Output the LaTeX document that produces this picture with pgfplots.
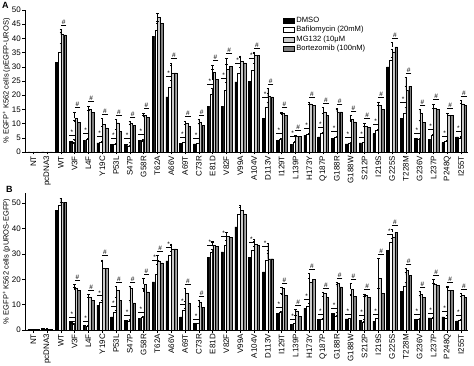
\documentclass[border=0pt]{standalone}
\usepackage{fontspec}
\setmainfont{Liberation Sans}
\usepackage{pgfplots}
\pgfplotsset{compat=1.18}
\usepackage{pgfplotstable}

\pgfplotstableread{
x d de b be m me t te
0 0 0 0 0 0 0 0 0
1 0 0 0 0 0 0 0 0
2 31.5 3.5 35.3 3.0 41.5 0.8 41.2 2.0
3 3.8 0.6 3.0 0.3 11.8 2.3 10.5 0.8
4 4.2 0.4 4.6 0.4 15.0 1.2 14.0 0.8
5 3.2 0.6 3.5 0.3 9.8 2.0 8.5 0.7
6 2.7 0.3 2.6 0.2 10.3 1.2 7.3 0.8
7 2.7 0.6 2.2 0.2 10.0 0.8 9.5 0.4
8 4.0 0.6 3.9 0.3 13.0 0.8 12.2 0.6
9 40.8 4.4 43.0 2.3 47.4 1.4 45.3 0.8
10 19.4 1.5 22.7 2.5 27.9 3.5 27.9 2.5
11 3.0 0.3 3.3 0.3 10.2 0.8 9.1 0.6
12 2.9 0.3 3.0 0.2 10.6 0.8 9.5 0.6
13 16.1 2.5 20.2 2.2 28.2 2.5 25.5 3.5
14 16.1 2.8 21.8 2.7 29.0 2.0 30.2 2.8
15 24.7 1.5 27.6 2.2 31.8 1.7 31.4 2.5
16 24.9 2.0 28.8 2.5 34.1 1.0 34.1 0.8
17 11.8 1.8 15.9 1.8 19.6 1.2 19.4 3.0
18 4.1 0.4 4.6 0.3 13.5 0.5 13.0 0.5
19 2.7 0.4 3.5 0.4 5.5 0.4 5.5 0.4
20 5.9 0.4 6.2 0.4 17.0 0.6 16.5 0.5
21 5.3 0.5 6.5 0.5 14.1 1.5 13.0 0.5
22 4.7 0.3 5.3 0.3 14.1 1.2 14.1 0.8
23 2.9 0.3 3.2 0.3 11.4 1.5 10.6 0.5
24 3.2 0.2 3.3 0.2 9.0 1.2 8.6 0.6
25 6.5 0.4 7.5 0.5 16.5 1.2 15.0 1.5
26 30.0 0.0 32.4 1.0 35.3 1.0 37.0 1.5
27 11.8 0.0 13.8 2.0 21.8 1.5 23.2 3.0
28 4.7 0.3 4.6 0.3 13.5 1.5 10.5 0.8
29 4.4 0.3 6.0 0.4 15.3 1.5 15.0 0.5
30 3.3 0.3 3.7 0.3 13.0 0.8 13.0 0.5
31 5.3 0.3 5.0 0.3 17.0 1.2 16.5 0.8
}\dataA

\pgfplotstableread{
x d de b be m me t te
0 0.2 0 0.2 0 0.2 0 0.2 0
1 0.6 0.1 0.3 0 0.2 0 0.2 0
2 47.1 0.8 49.0 1.5 50.4 1.5 50.4 1.5
3 3.3 0.3 2.2 0.3 16.4 1.5 15.7 1.2
4 1.7 0.2 1.5 0.2 13.1 1.0 11.8 1.0
5 9.8 0.8 11.1 0.8 24.2 3.0 24.2 3.5
6 5.2 0.3 7.2 0.5 15.7 1.5 11.8 1.0
7 3.8 0.3 3.5 0.3 16.4 1.0 10.7 1.0
8 4.6 0.3 5.0 0.3 18.0 2.5 15.0 1.5
9 19.0 2.0 22.0 4.0 27.3 2.0 26.5 1.0
10 27.2 2.0 29.5 1.5 32.0 1.5 32.0 2.0
11 5.2 0.5 7.8 0.8 14.4 2.0 10.5 1.0
12 2.5 0.2 2.6 0.2 11.1 0.6 8.8 0.6
13 28.5 1.5 30.8 1.2 33.4 1.5 33.0 1.5
14 30.8 2.5 33.4 2.0 36.9 1.5 36.6 2.0
15 40.6 3.0 45.8 2.5 47.1 2.0 45.8 2.5
16 28.5 2.0 31.4 1.5 33.8 2.0 33.4 1.5
17 22.9 3.5 27.5 4.0 28.1 2.0 28.1 6.0
18 6.5 0.5 7.0 0.5 16.4 0.6 13.7 0.8
19 2.2 0.3 2.5 0.3 7.6 0.5 5.5 0.5
20 8.5 0.6 9.5 1.0 19.0 1.5 19.9 2.5
21 4.2 0.3 4.2 0.3 14.4 0.6 12.8 0.6
22 6.5 0.5 5.5 0.5 18.3 0.6 17.0 1.0
23 4.4 0.3 4.5 0.3 16.0 2.5 13.4 0.8
24 3.9 0.3 3.2 0.3 13.7 0.6 12.8 0.6
25 3.5 0.3 4.5 0.3 20.3 8.0 14.4 2.0
26 31.4 2.5 34.7 1.5 36.4 1.5 38.6 1.0
27 15.3 1.0 17.3 1.5 23.6 0.8 21.6 1.0
28 4.2 0.3 4.2 0.3 14.1 1.3 12.8 0.8
29 4.8 0.3 4.5 0.3 18.0 2.0 17.5 1.0
30 5.2 0.5 4.5 0.3 15.7 1.5 15.7 1.0
31 3.6 0.3 4.0 0.3 13.7 0.8 12.8 0.6
}\dataB

% significance markers: x, y
\pgfplotstableread{
x y
3 6.0
4 6.5
5 5.5
6 4.7
7 5.0
8 6.2
10 26.8
11 5.2
12 4.9
13 24.0
14 26.1
15 31.4
16 32.9
17 19.3
18 6.5
19 5.5
20 8.2
21 8.6
22 7.2
23 5.1
24 5.1
25 9.6
27 17.4
28 6.6
29 8.0
30 5.6
31 7.2
}\starA
\pgfplotstableread{
x y
2 44.8
3 15.7
4 17.8
5 13.4
6 13.1
7 12.4
8 15.4
10 33.0
11 12.6
12 13.0
13 32.3
14 34.6
16 36.7
17 24.0
18 15.6
19 7.5
20 19.2
21 17.2
22 16.9
23 14.5
24 11.8
25 19.3
26 40.1
27 27.8
28 16.6
29 18.4
30 15.4
31 19.8
}\hashA
\pgfplotstableread{
x y
3 5.2
4 3.5
5 13.5
6 9.3
7 5.7
8 6.9
9 27.6
10 32.6
11 10.2
12 4.4
13 33.6
14 37.0
16 34.5
17 33.1
18 9.1
19 4.4
20 12.1
21 6.1
22 8.6
23 6.4
24 5.8
25 6.4
26 37.8
28 6.1
29 6.7
30 7.3
31 5.9
}\starB
\pgfplotstableread{
x y
3 19.5
4 15.7
5 29.3
6 18.8
7 19.0
8 22.1
9 30.9
11 18.0
12 13.3
18 18.6
19 9.7
20 24.0
21 16.6
22 20.5
23 20.1
24 15.9
25 29.9
26 41.2
27 26.0
28 17.0
29 21.6
30 18.8
31 16.1
}\hashB

\definecolor{mgc}{gray}{0.80}
\definecolor{btc}{gray}{0.50}

\pgfplotsset{
  panel/.style={
    scale only axis, width=443bp,
    xmin=-0.6, xmax=31.5, ymin=0,
    axis x line*=bottom, axis y line*=left,
    axis line style={line width=0.6bp},
    xtick={0,...,31},
    xticklabels={NT,pcDNA3,WT,V3F,L4F,Y19C,P53L,S47P,G58R,T62A,A66V,A69T,C73R,E81D,V82F,V99A,A104V,D113V,I129T,L139P,H173Y,Q187P,G188R,G188W,S212P,I219S,G225S,T228M,G236V,L237P,P248Q,I255T},
    xticklabel style={rotate=90, anchor=east, font=\fontsize{8bp}{9bp}\selectfont, inner sep=1.5bp},
    yticklabel style={font=\fontsize{8bp}{9bp}\selectfont, inner sep=1.5bp},
    ylabel style={font=\fontsize{7.5bp}{8bp}\selectfont, inner sep=0bp},
    tick align=outside, major tick length=2.5bp,
    tick style={line width=0.5bp, black},
    /pgf/number format/assume math mode=true,
    clip=false,
  },
  barA/.style={ybar, bar width=0.19, draw=black, line width=0.4bp,
    error bars/y dir=plus, error bars/y explicit,
    error bars/error bar style={line width=0.4bp, black},
    error bars/error mark options={rotate=90, mark size=1.2bp, line width=0.4bp, black}},
  sig/.style={only marks, mark=-, mark size=2.8bp, mark options={line width=0.5bp, black},
    nodes near coords={#1}, point meta=y,
    nodes near coords style={font=\fontsize{6.5bp}{7bp}\selectfont, anchor=south, inner sep=0.5bp, black}},
}

\begin{document}
\begin{tikzpicture}
\useasboundingbox (0,0) rectangle (474bp,366bp);
% Panel A
\begin{axis}[panel, at={(25bp,214bp)}, anchor=south west, height=142bp,
  ymax=50, ytick={0,5,...,50},
  ylabel={\% EGFP\textsuperscript{+} K562 cells (pEGFP-UROS)},
  legend style={at={(0.582,0.965)}, anchor=north west, draw=none, fill=none,
    font=\fontsize{7.6bp}{9bp}\selectfont, row sep=-1.5bp, inner sep=0bp},
  legend cell align=left,
  legend image code/.code={\draw[#1, line width=0.4bp] (0bp,-2.3bp) rectangle (11bp,2.3bp);},
]
\addplot[barA, fill=black, bar shift=-0.3] table[x=x, y=d, y error=de] {\dataA};
\addlegendentry{DMSO}
\addplot[barA, fill=white, bar shift=-0.1] table[x=x, y=b, y error=be] {\dataA};
\addlegendentry{Bafilomycin (20mM)}
\addplot[barA, fill=mgc, bar shift=0.1] table[x=x, y=m, y error=me] {\dataA};
\addlegendentry{MG132 (10μM}
\addplot[barA, fill=btc, bar shift=0.3] table[x=x, y=t, y error=te] {\dataA};
\addlegendentry{Bortezomib (100nM)}
\addplot[sig={*}, forget plot] table[x expr=\thisrow{x}-0.2, y=y] {\starA};
\addplot[sig={\#}, forget plot] table[x expr=\thisrow{x}+0.2, y=y] {\hashA};
\end{axis}
% Panel B
\begin{axis}[panel, at={(25bp,36bp)}, anchor=south west, height=137bp,
  ymax=54, ytick={0,10,...,50},
  ylabel={\% EGFP\textsuperscript{+} K562 cells (pUROS-EGFP)},
]
\addplot[barA, fill=black, bar shift=-0.3] table[x=x, y=d, y error=de] {\dataB};
\addplot[barA, fill=white, bar shift=-0.1] table[x=x, y=b, y error=be] {\dataB};
\addplot[barA, fill=mgc, bar shift=0.1] table[x=x, y=m, y error=me] {\dataB};
\addplot[barA, fill=btc, bar shift=0.3] table[x=x, y=t, y error=te] {\dataB};
\addplot[sig={*}] table[x expr=\thisrow{x}-0.2, y=y] {\starB};
\addplot[sig={\#}] table[x expr=\thisrow{x}+0.2, y=y] {\hashB};
\end{axis}
\node[anchor=north west, font=\bfseries\fontsize{9bp}{10bp}\selectfont, inner sep=0bp] at (2bp,364bp) {A};
\node[anchor=north west, font=\bfseries\fontsize{9bp}{10bp}\selectfont, inner sep=0bp] at (6bp,180bp) {B};
\end{tikzpicture}
\end{document}
